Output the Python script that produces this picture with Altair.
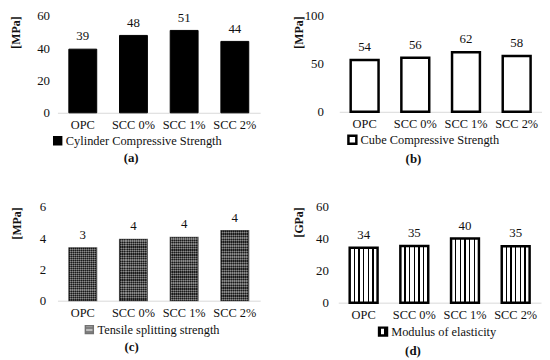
import altair as alt
import pandas as pd

categories = ["OPC", "SCC 0%", "SCC 1%", "SCC 2%"]
cylinder = [39.4, 47.9, 51.0, 44.2]
cube = [54.1, 56.4, 62.2, 58.2]
tensile = [3.38, 3.92, 4.05, 4.48]
modulus = [34.4, 35.4, 40.1, 35.3]

FONT = "Liberation Serif"
TXT = "#111111"


def stripes(n, frac, dark, light, horizontal=False):
    stops = []
    pitch = 1.0 / n
    for i in range(n):
        a = i * pitch
        b = a + pitch * frac
        c = a + pitch
        stops += [
            alt.GradientStop(color=dark, offset=a),
            alt.GradientStop(color=dark, offset=b),
            alt.GradientStop(color=light, offset=b),
            alt.GradientStop(color=light, offset=c),
        ]
    if horizontal:
        return alt.Gradient(gradient="linear", stops=stops, x1=0, x2=0, y1=0, y2=1)
    return alt.Gradient(gradient="linear", stops=stops, x1=0, x2=1, y1=0, y2=0)


def vstripes():
    stops = []
    n = 6
    w = 0.055
    stops.append(alt.GradientStop(color="#ffffff", offset=0))
    for i in range(1, n):
        c = i / n
        stops += [
            alt.GradientStop(color="#ffffff", offset=c - w / 2),
            alt.GradientStop(color="#000000", offset=c - w / 2),
            alt.GradientStop(color="#000000", offset=c + w / 2),
            alt.GradientStop(color="#ffffff", offset=c + w / 2),
        ]
    stops.append(alt.GradientStop(color="#ffffff", offset=1))
    return alt.Gradient(gradient="linear", stops=stops, x1=0, x2=1, y1=0, y2=0)


def panel(values, series, unit, domain_max, ticks, h, fills, stroke_w, sym_fill,
          legend_x, legend_dy, label_pad, title_x, caption):
    df = pd.DataFrame({"cat": categories, "v": values, "s": series})
    x = alt.X("cat:N", sort=categories, title=None,
              scale=alt.Scale(paddingInner=0.45, paddingOuter=0.225),
              axis=alt.Axis(labelAngle=0, labelFont=FONT, labelFontSize=12.5,
                            labelColor=TXT, ticks=False, domainColor="#d9d9d9",
                            domainWidth=1, labelPadding=6))
    y = alt.Y("v:Q", title=unit,
              scale=alt.Scale(domain=[0, domain_max], nice=False),
              axis=alt.Axis(values=ticks, grid=False, domain=False, ticks=False,
                            labelOverlap=False, labelFlush=False,
                            labelFont=FONT, labelFontSize=13, labelColor=TXT,
                            labelPadding=label_pad, titleFont=FONT,
                            titleFontSize=12, titleFontWeight="bold",
                            titleColor=TXT, titleAnchor="end", titleX=title_x))
    layers = []
    for i, f in enumerate(fills):
        last = i == len(fills) - 1
        mark = alt.Chart(df).mark_bar(fill=f["fill"], opacity=f.get("opacity", 1),
                                      strokeWidth=stroke_w if last else 0)
        enc = dict(x=x, y=y)
        if last:
            enc["stroke"] = alt.Stroke(
                "s:N", scale=alt.Scale(range=["#000000"]),
                legend=alt.Legend(orient="none", legendX=legend_x,
                                  legendY=h + legend_dy,
                                  title=None, symbolType="square", symbolSize=64,
                                  symbolFillColor=sym_fill,
                                  symbolStrokeWidth=max(stroke_w, 1.5),
                                  labelFont=FONT, labelFontSize=12.5, labelLimit=0,
                                  labelColor=TXT, labelOffset=2))
        layers.append(mark.encode(**enc))
    text = alt.Chart(df).mark_text(baseline="bottom", dy=-6, font=FONT,
                                   fontSize=13, color=TXT).encode(
        x=x, y=y, text=alt.Text("v:Q", format=".0f"))
    layers.append(text)
    return alt.layer(*layers).properties(
        width=205, height=h,
        title=alt.TitleParams(text=caption, orient="bottom", anchor="middle",
                              frame="bounds", font=FONT, fontSize=13,
                              fontWeight="bold", color=TXT, offset=4, dx=-4))


pa = panel(cylinder, ["Cylinder Compressive Strength"] * 4, "[MPa]", 60,
           [0, 20, 40, 60], 98, [{"fill": "#000000"}], 1, "#000000",
           -6, 22, 8, -35, "(a)")
pb = panel(cube, ["Cube Compressive Strength"] * 4, "[MPa]", 100,
           [0, 50, 100], 97, [{"fill": "#ffffff"}], 2.5, "#ffffff",
           7, 22, 16, -34, "(b)")
pc = panel(tensile, ["Tensile splitting strength"] * 4, "[MPa]", 6,
           [0, 2, 4, 6], 95,
           [{"fill": stripes(14, 0.5, "#1a1a1a", "#8a8a8a")},
            {"fill": stripes(26, 0.5, "#1a1a1a", "#8a8a8a", horizontal=True),
             "opacity": 0.55}],
           1.2, "#555555", 26, 23, 12, -34, "(c)")
pd_ = panel(modulus, ["Modulus of elasticity"] * 4, "[GPa]", 60,
            [0, 20, 40, 60], 97, [{"fill": vstripes()}], 2.5, "#ffffff",
            39, 23, 10, -33, "(d)")

row1 = alt.hconcat(pa, pb, spacing=33).resolve_scale(stroke="independent")
row2 = alt.hconcat(pc, pd_, spacing=33).resolve_scale(stroke="independent")

chart = alt.vconcat(row1, row2, spacing=35).properties(
    padding={"left": 2, "top": 0, "right": 0, "bottom": 0},
    background="white",
).configure_view(stroke=None)

chart.save("out.html", embed_options={"renderer": "svg", "actions": False})
